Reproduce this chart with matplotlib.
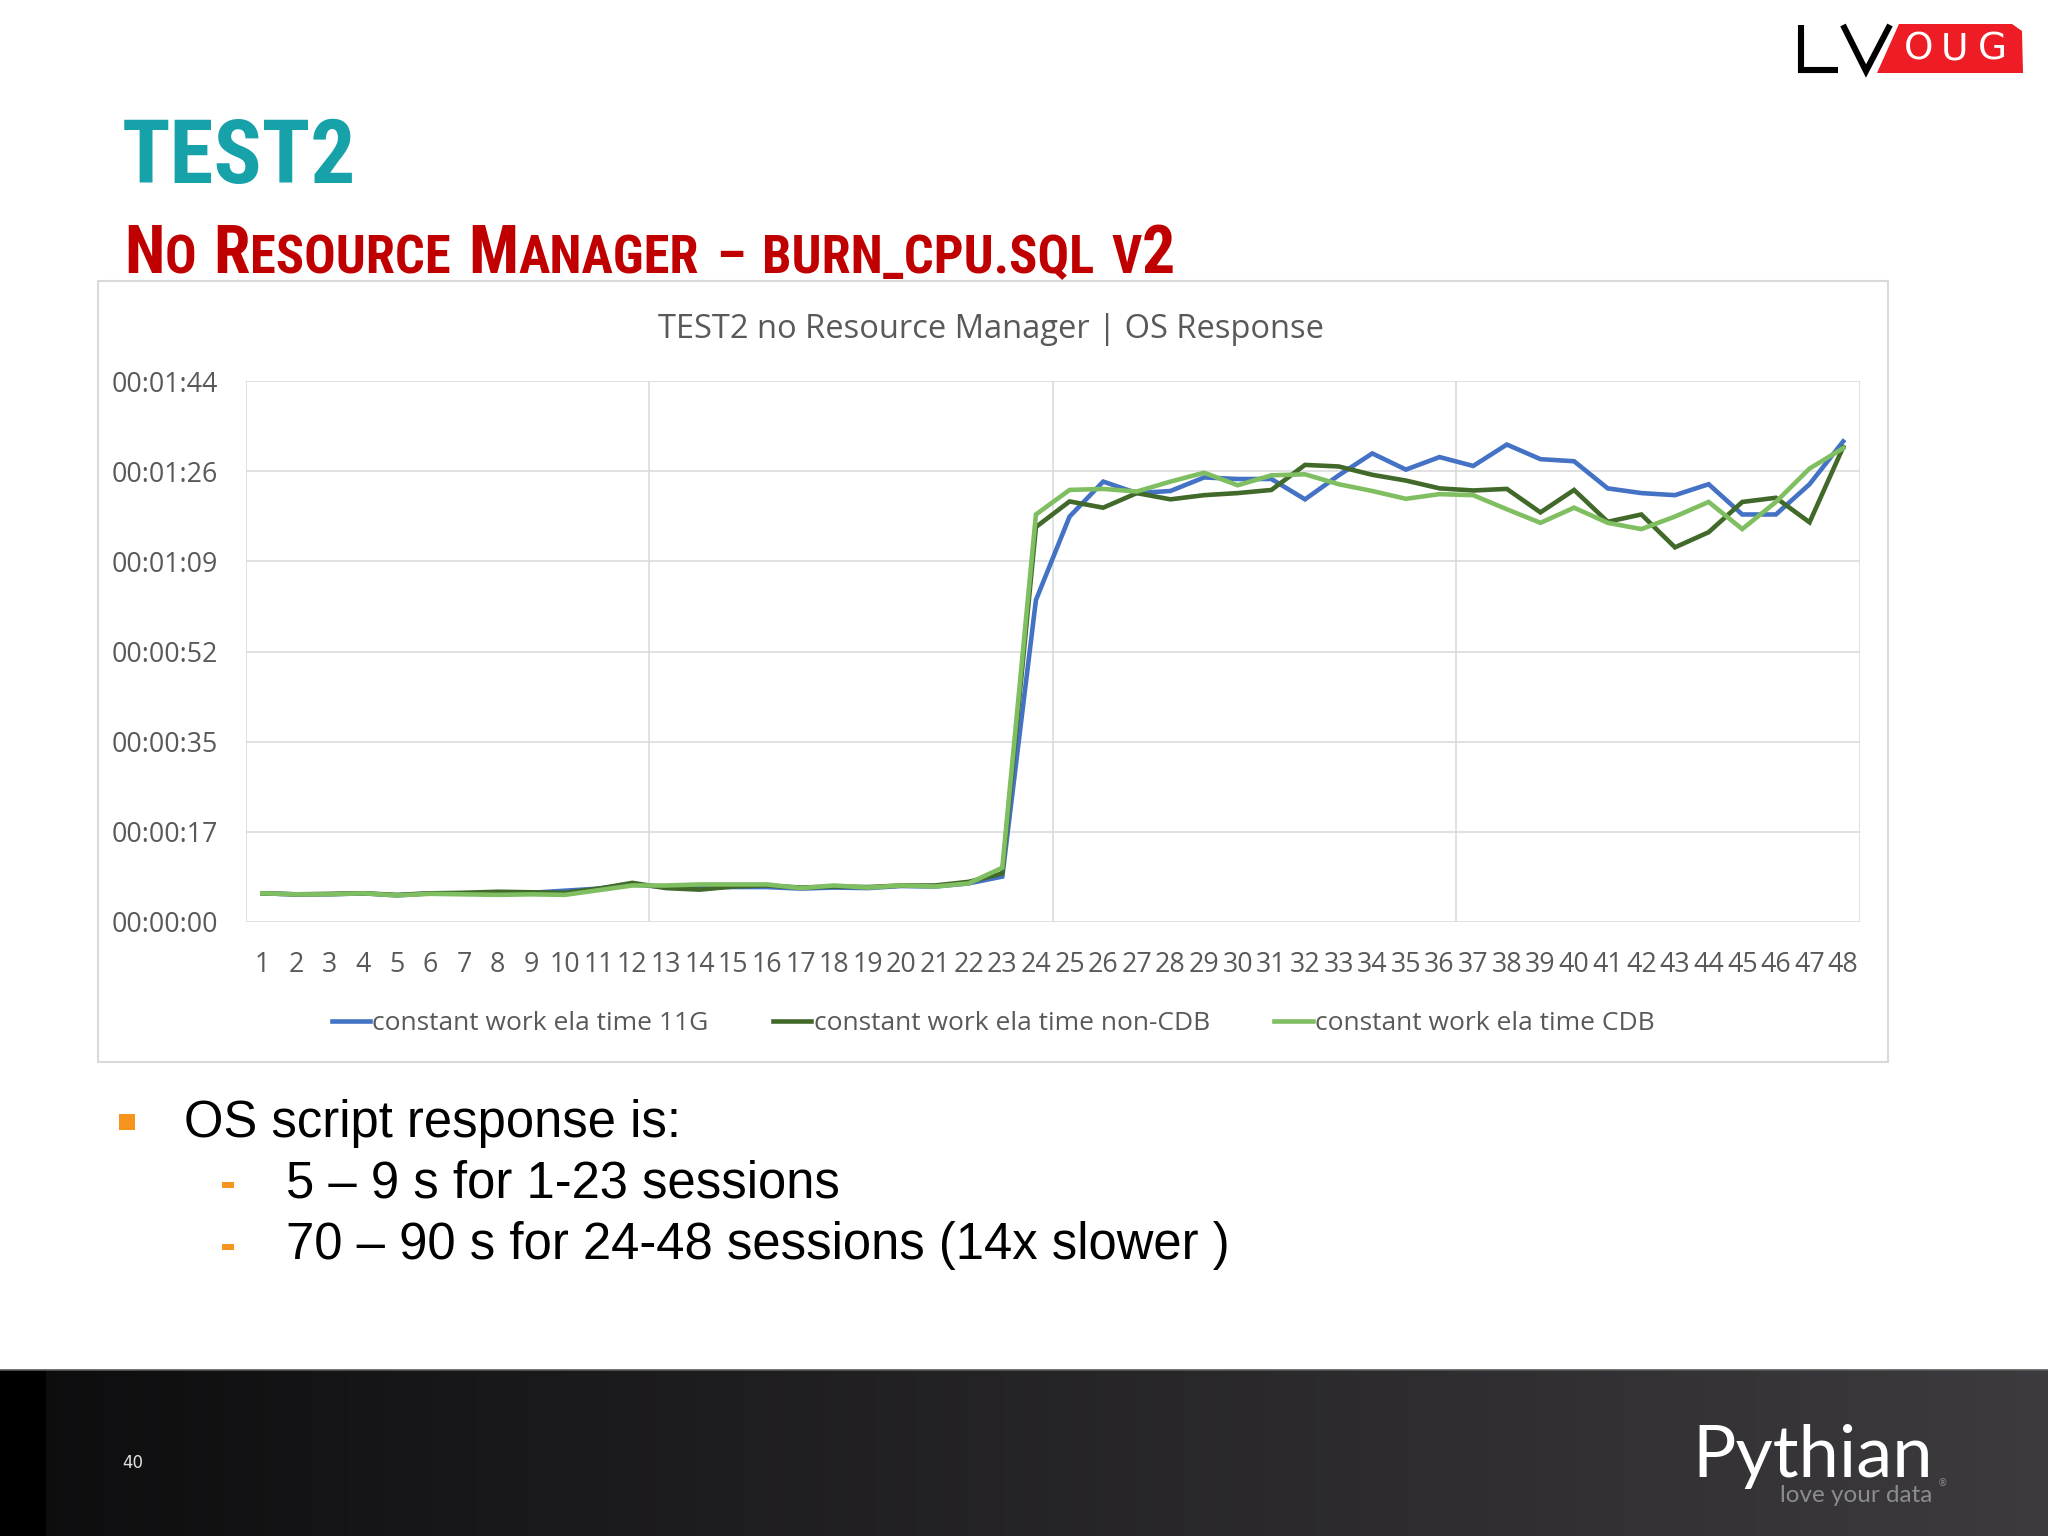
import matplotlib
matplotlib.use('Agg')
import matplotlib.pyplot as plt
import numpy as np
from matplotlib.patches import Rectangle, Polygon
from matplotlib import font_manager as fm

# ---------------- data ----------------
sessions = list(range(1, 49))
ela_11g = [5.5, 5.3, 5.3, 5.5, 5.1, 5.5, 5.5, 5.6, 5.6, 6.0,
           6.4, 7.2, 6.7, 6.7, 6.7, 6.7, 6.4, 6.6, 6.5, 6.9,
           6.8, 7.4, 8.7, 61.7, 77.7, 84.4, 82.2, 82.6, 85.2, 84.9,
           84.9, 81.0, 85.6, 89.8, 86.7, 89.1, 87.4, 91.5, 88.7, 88.3,
           83.1, 82.2, 81.8, 83.9, 78.1, 78.1, 83.9, 92.1]
ela_noncdb = [5.5, 5.3, 5.4, 5.5, 5.2, 5.5, 5.6, 5.8, 5.7, 5.6,
              6.4, 7.5, 6.5, 6.2, 6.8, 7.0, 6.6, 6.8, 6.7, 7.0,
              7.0, 7.7, 9.3, 75.7, 80.6, 79.4, 82.2, 81.0, 81.8, 82.2,
              82.8, 87.6, 87.3, 85.7, 84.6, 83.1, 82.7, 83.0, 78.5, 82.8,
              76.7, 78.1, 71.8, 74.7, 80.5, 81.3, 76.6, 91.0]
ela_cdb = [5.5, 5.3, 5.3, 5.5, 5.1, 5.4, 5.3, 5.2, 5.3, 5.2,
           6.1, 7.0, 7.0, 7.2, 7.2, 7.2, 6.5, 7.0, 6.6, 7.0,
           6.8, 7.4, 10.4, 78.1, 82.8, 83.0, 82.5, 84.4, 86.1, 83.7,
           85.6, 85.8, 83.9, 82.6, 81.1, 82.0, 81.8, 79.1, 76.5, 79.4,
           76.5, 75.3, 77.7, 80.5, 75.3, 80.5, 86.9, 90.8]
series_names = ['constant work ela time 11G',
                'constant work ela time non-CDB',
                'constant work ela time CDB']
y_tick_seconds = [0, 17.28, 34.56, 51.84, 69.12, 86.4, 103.68]
y_tick_labels = ['00:00:00', '00:00:17', '00:00:35', '00:00:52',
                 '00:01:09', '00:01:26', '00:01:44']
chart_title = 'TEST2 no Resource Manager | OS Response'
bullet_main = 'OS script response is:'
bullet_subs = ['5 \u2013 9 s for 1-23 sessions',
               '70 \u2013 90 s for 24-48 sessions (14x slower )']

colors = ['#4472C4', '#41692A', '#80BE62']

# pick a narrow/condensed bold font if available
narrow_family = 'DejaVu Sans'
narrow_stretch = 'normal'
_names = [(f.name, f.stretch) for f in fm.fontManager.ttflist]
for cand in ['Liberation Sans Narrow', 'Arial Narrow', 'DejaVu Sans Condensed',
             'Roboto Condensed', 'Open Sans Condensed', 'Noto Sans Condensed']:
    if any(n == cand for n, _ in _names):
        narrow_family = cand
        break
else:
    if any(n == 'DejaVu Sans' and str(s).startswith(('condensed', 'semi-condensed', '87'))
           for n, s in _names):
        narrow_stretch = 'condensed'

W, H = 2048, 1536
fig = plt.figure(figsize=(W / 100, H / 100), dpi=100)
fig.patch.set_facecolor('white')
renderer = fig.canvas.get_renderer()

bg = fig.add_axes([0, 0, 1, 1])
bg.set_zorder(0)
bg.axis('off')

# bottom dark bar
grad = np.zeros((1, 400, 3))
for i in range(400):
    px = (i + 0.5) / 400 * W
    if px < 48:
        grad[0, i] = (0, 0, 0)
    else:
        f = (px - 48) / (W - 48)
        grad[0, i] = (0.055 + 0.185 * f, 0.052 + 0.178 * f, 0.058 + 0.188 * f)
bg.imshow(grad, extent=(0, W, H, 1370), aspect='auto', interpolation='nearest')
bg.plot([0, W], [1370, 1370], color='#5a5a5a', lw=1.2)
bg.set_xlim(0, W)
bg.set_ylim(H, 0)

bg.text(133, 1463, '40', color='#e0e0e0', fontsize=12, ha='center', va='center',
        family='DejaVu Sans')
bg.text(1692, 1477, 'Pythian', color='white', fontsize=52, ha='left', va='baseline',
        family=['Lato', 'Open Sans', 'DejaVu Sans'])
bg.text(1932, 1502, 'love your data', color='#8c8c8c', fontsize=17.5, ha='right',
        va='baseline', family=['Lato', 'DejaVu Sans'])
bg.text(1938, 1486, '\u00ae', color='#8c8c8c', fontsize=7, ha='left', va='baseline',
        family='DejaVu Sans')

# LVOUG logo
bg.plot([1801, 1801, 1838], [25, 70, 70], color='black', lw=4.4,
        solid_joinstyle='miter', solid_capstyle='butt')
bg.plot([1843, 1866, 1890], [25, 71, 25], color='black', lw=4.4,
        solid_joinstyle='miter', solid_capstyle='butt')
bg.add_patch(Polygon([(1877, 73), (1899, 24), (2012, 24), (2022, 31), (2023, 73)],
                     closed=True, facecolor='#EE1C24', edgecolor='none'))
for lx, ch in zip([1919, 1955, 1992], 'OUG'):
    bg.text(lx, 50, ch, color='white', fontsize=27, ha='center', va='center',
            family='DejaVu Sans')

# title
tkw = dict(fontweight='bold', family=[narrow_family, 'DejaVu Sans'], fontstretch=narrow_stretch)


def fit_size(txt, size, target_w):
    t = bg.text(0, 0, txt, fontsize=size, **tkw)
    w = t.get_window_extent(renderer).width
    t.remove()
    return size * min(1.0, target_w / w)


ts = fit_size('TEST2', 66, 234)
bg.text(122, 183, 'TEST2', color='#17A2AA', fontsize=ts, ha='left', va='baseline', **tkw)

# subtitle in small caps
words = [[('N', 1), ('O', 0)],
         [('R', 1), ('ESOURCE', 0)],
         [('M', 1), ('ANAGER', 0)],
         [('\u2013', 0)],
         [('BURN_CPU.SQL', 0)],
         [('V', 0), ('2', 1)]]


def layout_subtitle(big, small, draw):
    x = 124
    arts = []
    gap = 0.33 * small * 100 / 72
    for w in words:
        for seg, isbig in w:
            t = bg.text(x, 273, seg, color='#C00000', fontsize=big if isbig else small,
                        ha='left', va='baseline', **tkw)
            x += t.get_window_extent(renderer).width
            arts.append(t)
        x += gap
    if not draw:
        for a in arts:
            a.remove()
    return x - gap


big, small = 44.0, 35.0
end = layout_subtitle(big, small, False)
scale = max(0.8, min(1.15, (1175 - 124) / (end - 124)))
layout_subtitle(big * scale, small * scale, True)

# chart container
bg.add_patch(Rectangle((98, 281), 1790, 781, facecolor='white', edgecolor='#d9d9d9', lw=1.5))
bg.text(991, 329, chart_title, color='#595959', fontsize=23.5, ha='center', va='center',
        family=['Open Sans', 'DejaVu Sans'])

# bullets
bg.add_patch(Rectangle((119, 1114), 16, 16, facecolor='#F7941D', edgecolor='none'))
bg.text(184, 1137, bullet_main, fontsize=36.5, color='black', ha='left', va='baseline',
        family=['Liberation Sans', 'DejaVu Sans'])
for yb, txt in zip([1197, 1259], bullet_subs):
    bg.add_patch(Rectangle((222, yb - 15), 12, 6, facecolor='#F7941D', edgecolor='none'))
    bg.text(286, yb, txt, fontsize=36.5, color='black', ha='left', va='baseline',
            family=['Liberation Sans', 'DejaVu Sans'])

# ---------------- chart ----------------
L, R, T, B = 245.5, 1860, 381, 922
ax = fig.add_axes([L / W, 1 - B / H, (R - L) / W, (B - T) / H])
ax.set_zorder(2)
ax.set_facecolor('white')
for s, c, n in zip([ela_11g, ela_noncdb, ela_cdb], colors, series_names):
    ax.plot(sessions, s, color=c, lw=3.3, label=n, solid_joinstyle='miter')
ax.set_xlim(0.5, 48.5)
ax.set_ylim(0, 103.68)
ax.set_yticks(y_tick_seconds)
ax.set_yticklabels(y_tick_labels)
ax.set_xticks(sessions)
ax.set_xticklabels([str(s) for s in sessions])
ax.set_xticks([0.5, 12.5, 24.5, 36.5, 48.5], minor=True)
ax.grid(True, axis='y', which='major', color='#d9d9d9', lw=1.1)
ax.grid(True, axis='x', which='minor', color='#d9d9d9', lw=1.1)
ax.set_axisbelow(True)
for sp in ax.spines.values():
    sp.set_visible(False)
ax.tick_params(axis='both', which='both', length=0, labelcolor='#595959', labelsize=19.3)
ax.tick_params(axis='y', pad=20)
ax.tick_params(axis='x', pad=21)
for lab in ax.get_xticklabels() + ax.get_yticklabels():
    lab.set_family(['Open Sans', 'DejaVu Sans'])

leg = ax.legend(loc='center', bbox_to_anchor=(993 / W, 1 - 1024 / H),
                bbox_transform=fig.transFigure, ncol=3, frameon=False,
                handlelength=1.45, handletextpad=0.08,
                columnspacing=2.45, prop={'family': 'Open Sans', 'size': 19})
for t in leg.get_texts():
    t.set_color('#595959')

fig.savefig('out.png', dpi=100, facecolor='white')
